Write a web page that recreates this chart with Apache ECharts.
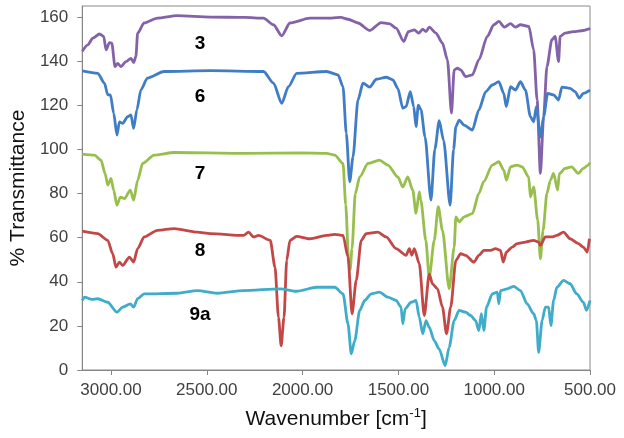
<!DOCTYPE html>
<html>
<head>
<meta charset="utf-8">
<title>IR spectra</title>
<script src="https://cdn.jsdelivr.net/npm/echarts@6/dist/echarts.min.js"></script>
<style>
  html, body { margin: 0; padding: 0; background: #fff; }
  #chart { width: 624px; height: 438px; }
</style>
</head>
<body>
<div id="chart"></div>
<script>
// [wavenumber (cm-1), % transmittance]
var spec3 = [[3150,144.5],[3121,147.4],[3095,150.4],[3060,152.3],[3038,151.2],[3026,145.1],[3008,148.4],[2996,148.2],[2979,137.5],[2965,139],[2948,137.5],[2922,139.8],[2896,141.3],[2882,139.4],[2870,142.1],[2861,152.7],[2827,157.3],[2758,159.5],[2654,160.6],[2481,160],[2300,159.8],[2204,159.5],[2152,156.5],[2109,151.5],[2066,157.3],[1962,159.5],[1875,159.5],[1800,159.8],[1763,159],[1711,157.3],[1650,153.9],[1590,157.5],[1547,157],[1512,155],[1472,148.9],[1448,153.4],[1417,154.2],[1394,152.7],[1373,154.5],[1356,153.4],[1339,155.4],[1304,152.7],[1270,148.2],[1244,140.6],[1223,116.4],[1209,136],[1192,136.8],[1175,136],[1149,133],[1114,133.8],[1080,140.6],[1036,151.2],[1002,156.5],[976,158],[946,155.4],[915,157],[889,155.4],[863,156.5],[819,155.7],[794,145.1],[776,122.4],[759,89.1],[742,114.8],[725,137.5],[699,149.7],[682,151.2],[664,139.8],[656,151.2],[630,152.7],[587,153.4],[535,153.9],[509,154.5],[500,155]]

var spec6 = [[3150,135.6],[3069,134.5],[3034,130],[3017,124.7],[3003,124.7],[2986,116.4],[2969,106.5],[2956,112.5],[2939,111.8],[2913,114.8],[2896,115.6],[2882,109.5],[2865,117.9],[2844,127],[2810,132.3],[2723,135.3],[2481,135.7],[2204,135.3],[2152,130],[2109,120.9],[2074,128.4],[2031,134.5],[1875,135.3],[1815,133.8],[1789,128.4],[1772,107.3],[1754,85.3],[1737,96.6],[1711,122.4],[1685,130],[1650,128.2],[1615,131.8],[1564,132.7],[1529,131.5],[1503,127.7],[1477,118.6],[1460,119.4],[1438,126.2],[1420,119.4],[1408,110.3],[1396,120.1],[1382,117.9],[1361,105.7],[1330,77],[1310,100],[1287,113],[1264,104],[1230,74.7],[1212,100],[1200,110.3],[1183,113.3],[1157,111],[1114,108.8],[1080,117.9],[1044,126.2],[1010,129.2],[976,130.7],[950,125.4],[937,119.4],[915,128.4],[889,126.9],[863,130.7],[837,126.9],[811,114.8],[794,112.5],[780,119.4],[759,105.7],[742,114.8],[721,125.4],[690,124.7],[664,122.4],[647,128.2],[604,127.7],[578,126.2],[556,123.2],[535,125.4],[500,126.9]]

var spec7 = [[3150,97.9],[3086,97.4],[3052,95.1],[3031,89.1],[3017,83.8],[3000,86.8],[2986,81.5],[2969,74.7],[2951,78.4],[2930,77.7],[2899,81.5],[2882,77],[2861,86],[2835,93.6],[2775,97.4],[2671,98.6],[2308,98.2],[2005,98.4],[1875,98.2],[1832,97.4],[1789,93.6],[1775,75],[1760,50],[1752,45.5],[1742,55],[1725,80],[1702,87.5],[1659,93.6],[1599,95.1],[1555,92.9],[1503,87.5],[1477,83],[1451,87.5],[1425,81.5],[1408,71],[1391,80.7],[1383,77],[1357,58.8],[1339,42],[1313,58.8],[1292,74],[1270,63.3],[1235,36.8],[1209,55.7],[1200,69.4],[1183,67.1],[1157,69.4],[1114,70.9],[1080,80],[1054,85.5],[1010,92.9],[976,94.4],[950,90.6],[936,86],[915,92.1],[880,92.9],[854,92.1],[820,87.5],[811,78.4],[794,83],[773,67.9],[759,50.4],[745,63.3],[725,80],[707,86],[690,89.1],[669,81.5],[660,89],[630,91.4],[596,92.1],[561,89.1],[535,91.4],[509,92.9],[500,94]]

var spec8 = [[3150,62.9],[3069,61.8],[3017,58.8],[2991,52.7],[2974,46.6],[2956,48.9],[2939,47.4],[2904,51.2],[2882,48.9],[2861,55],[2827,60.3],[2758,63.3],[2671,64.1],[2550,62.5],[2481,61.8],[2308,61],[2282,62.5],[2256,60.3],[2230,61],[2169,58.8],[2144,46.6],[2126,23.9],[2112,11],[2097,23.9],[2083,49.7],[2066,58.8],[2031,60.6],[1962,59.5],[1875,61],[1832,61.5],[1789,61],[1763,51.2],[1742,25.5],[1720,40.6],[1694,58.8],[1668,61.8],[1607,62.5],[1564,60.3],[1512,55],[1460,52],[1443,55],[1430,52],[1417,55],[1391,48.2],[1365,24.7],[1339,43.6],[1322,39],[1296,36.8],[1270,28.5],[1249,16.4],[1227,28.5],[1200,49.7],[1175,52.7],[1149,52],[1106,48.9],[1080,52],[1054,54.2],[1019,54.2],[993,55],[967,54.2],[953,48.9],[936,53.5],[906,55.7],[880,57.3],[837,58],[794,58.8],[768,58],[759,56.5],[733,60.3],[699,60.3],[673,61],[638,62.5],[604,59.5],[561,57.3],[535,55.7],[514,53.5],[503,59.5]]

var spec9a = [[3150,31.5],[3138,33],[3100,32],[3069,32.3],[3017,30.7],[2969,26.2],[2939,28.5],[2899,30],[2882,28.5],[2861,32.3],[2827,34.5],[2654,34.8],[2550,36],[2446,34.8],[2308,36],[2117,36.8],[2031,35.7],[1927,37.5],[1832,37.5],[1789,34.5],[1763,20.9],[1746,7.3],[1728,13.3],[1702,27],[1676,31.5],[1642,34.5],[1599,35.3],[1555,33],[1512,31.5],[1486,28.5],[1477,20.9],[1465,27.7],[1434,30.7],[1408,31.5],[1391,23.9],[1373,16.4],[1356,22.4],[1339,19.4],[1313,13.3],[1287,9.5],[1256,2],[1235,10.3],[1209,22.4],[1183,27],[1149,26.2],[1123,24.7],[1097,22.4],[1080,17.9],[1067,25.5],[1054,17.9],[1040,28.5],[1010,34.5],[984,35.3],[976,30],[967,36],[932,36.8],[898,37.9],[863,36],[828,30],[794,25.5],[780,22.4],[768,8],[750,22.4],[733,28.5],[716,28.5],[704,20.1],[690,31.5],[673,37.5],[638,40.6],[604,39.1],[569,34.5],[535,30.7],[518,27],[500,31.5]]

var names = ['3', '6', '7', '8', '9a']
var colors = ['#8462a8', '#3f7dc6', '#98bf4e', '#c24848', '#3facca']
// where the compound labels sit (wavenumber, %T)
var labelWn = 2535
var labelT = [148, 124, 89, 54, 25]

var xTicks = [3000, 2500, 2000, 1500, 1000, 500]
var yTicks = [0, 20, 40, 60, 80, 100, 120, 140, 160]

var spectra = [spec3, spec6, spec7, spec8, spec9a]

var chart = echarts.init(document.getElementById('chart'))

var series = spectra.map(function(d, i) {
  return {
    name: names[i],
    type: 'line',
    data: d,
    showSymbol: false,
    smooth: 0.25,
    smoothMonotone: 'x',
    lineStyle: { color: colors[i], width: 2.8 },
    itemStyle: { color: colors[i] },
    z: 2 + i,
    markPoint: {
      symbol: 'rect',
      symbolSize: 1,
      itemStyle: { color: 'rgba(0,0,0,0)' },
      label: {
        show: true,
        position: 'inside',
        color: '#000',
        fontWeight: 'bold',
        fontSize: 19,
        fontFamily: 'Liberation Sans',
        formatter: names[i]
      },
      data: [{ coord: [labelWn, labelT[i]] }]
    }
  }
})

chart.setOption({
  animation: false,
  grid: {
    left: 79,
    right: 34,
    top: 6,
    bottom: 68,
    show: true,
    borderColor: '#8a8a8a',
    borderWidth: 1
  },
  xAxis: {
    type: 'value',
    min: 500,
    max: 3150,
    inverse: true,
    name: 'Wavenumber [cm{sup|-1}]',
    nameLocation: 'middle',
    nameGap: 37,
    nameTextStyle: {
      fontSize: 21,
      fontFamily: 'Liberation Sans',
      color: '#111',
      rich: {
        sup: { fontSize: 13, fontFamily: 'Liberation Sans', color: '#111', verticalAlign: 'top', padding: [0, 0, 12, 0] }
      }
    },
    axisLine: { lineStyle: { color: '#868686', width: 1 } },
    axisTick: { show: true, length: 5, customValues: xTicks, lineStyle: { color: '#868686' } },
    axisLabel: {
      customValues: xTicks,
      margin: 12,
      fontSize: 17,
      fontFamily: 'Liberation Sans',
      color: '#404040',
      formatter: function(v) { return v.toFixed(2) }
    },
    splitLine: { show: false }
  },
  yAxis: {
    type: 'value',
    min: 0,
    max: 165,
    name: '% Transmittance',
    nameLocation: 'middle',
    nameGap: 42,
    nameTextStyle: { fontSize: 21, fontFamily: 'Liberation Sans', color: '#111' },
    axisLine: { show: true, lineStyle: { color: '#868686', width: 1 } },
    axisTick: { show: true, length: 5, customValues: yTicks, lineStyle: { color: '#868686' } },
    axisLabel: {
      customValues: yTicks,
      margin: 14,
      fontSize: 17,
      fontFamily: 'Liberation Sans',
      color: '#404040'
    },
    splitLine: { show: false }
  },
  series: series
})
</script>
</body>
</html>
